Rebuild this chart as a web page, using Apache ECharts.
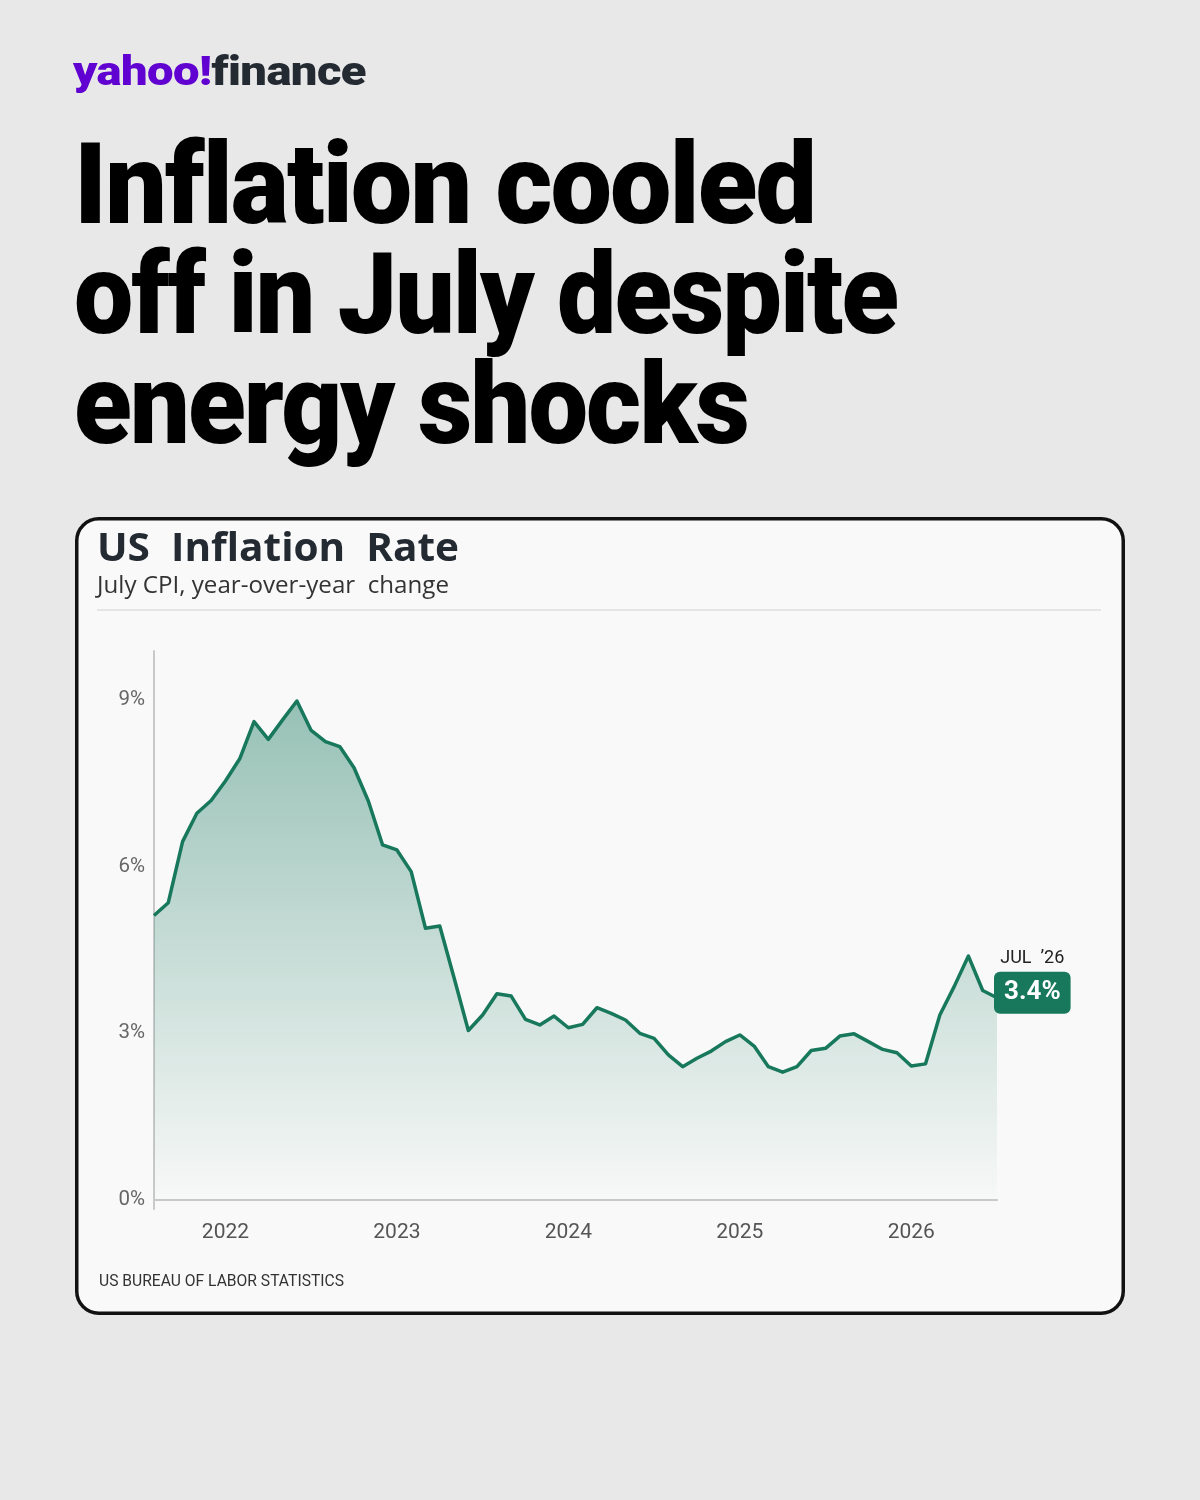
<!DOCTYPE html>
<html>
<head>
<meta charset="utf-8">
<script src="https://cdn.jsdelivr.net/npm/echarts@6/dist/echarts.min.js"></script>
<style>
  html, body { margin:0; padding:0; }
  body { width:1200px; height:1500px; background:#e8e8e8; position:relative; overflow:hidden; font-family:Roboto, "Noto Sans", sans-serif; }
  .fit { position:absolute; left:0; top:0; white-space:nowrap; transform-origin:0 0; }
  #logo { font-weight:900; font-size:41px; letter-spacing:-0.5px; }
  #logo .y { color:#6001d2; }
  #logo .f { color:#232a31; }
  .hl { font-weight:900; font-size:113px; line-height:113px; color:#000; letter-spacing:-2px; }
  #chart { position:absolute; left:0; top:0; width:1200px; height:1500px; }
</style>
</head>
<body>
<div id="chart"></div>
<div id="logo" class="fit"><span class="y">yahoo!</span><span class="f">finance</span></div>
<div id="h1" class="fit hl">Inflation cooled</div>
<div id="h2" class="fit hl">off in July despite</div>
<div id="h3" class="fit hl">energy shocks</div>
<script>
// ---- Data ----
const months = [
  '2021-08','2021-09','2021-10','2021-11','2021-12',
  '2022-01','2022-02','2022-03','2022-04','2022-05','2022-06','2022-07','2022-08','2022-09','2022-10','2022-11','2022-12',
  '2023-01','2023-02','2023-03','2023-04','2023-05','2023-06','2023-07','2023-08','2023-09','2023-10','2023-11','2023-12',
  '2024-01','2024-02','2024-03','2024-04','2024-05','2024-06','2024-07','2024-08','2024-09','2024-10','2024-11','2024-12',
  '2025-01','2025-02','2025-03','2025-04','2025-05','2025-06','2025-07','2025-08','2025-09','2025-10','2025-11','2025-12',
  '2026-01','2026-02','2026-03','2026-04','2026-05','2026-06','2026-07'
];
const inflationRate = [
  5.12, 5.35, 6.45, 6.96, 7.19,
  7.54, 7.94, 8.61, 8.29, 8.64, 8.98, 8.45, 8.25, 8.16, 7.78, 7.18, 6.39,
  6.30, 5.91, 4.89, 4.93, 4.00, 3.05, 3.33, 3.71, 3.67, 3.25, 3.15, 3.31,
  3.10, 3.16, 3.46, 3.36, 3.24, 3.00, 2.91, 2.61, 2.40, 2.55, 2.68, 2.85,
  2.97, 2.77, 2.40, 2.30, 2.40, 2.69, 2.73, 2.95, 2.99, 2.85, 2.71, 2.65,
  2.41, 2.45, 3.33, 3.84, 4.39, 3.77, 3.64
];
const yTickValues = [0, 3, 6, 9];
const latestPeriodLabel = 'JUL  \u201926';
const latestValueLabel = '3.4%';
const chartTitle = 'US  Inflation  Rate';
const chartSubtitle = 'July CPI, year-over-year  change';
const sourceText = 'US BUREAU OF LABOR STATISTICS';

// ---- Headline / logo text fitting ----
function place(id, left, top, width) {
  const el = document.getElementById(id);
  const w = el.getBoundingClientRect().width;
  el.style.left = left + 'px';
  el.style.top = top + 'px';
  el.style.transform = 'scaleX(' + (width / w) + ')';
}
const mctx = document.createElement('canvas').getContext('2d');
function fitScale(text, font, width) {
  mctx.font = font;
  return width / mctx.measureText(text).width;
}

// ---- Chart ----
const chart = echarts.init(document.getElementById('chart'), null, { renderer: 'canvas' });
const janIdx = months.map((m, i) => m.endsWith('-01') ? i : -1).filter(i => i >= 0);
const lineColor = '#17785c';

const titleFont = 'bold 39px "Open Sans"';
const subFont = '23px "Open Sans"';
const srcFont = '16.5px Roboto';

chart.setOption({
  backgroundColor: 'transparent',
  animation: false,
  graphic: [
    { type: 'rect', z: -10, shape: { x: 76.75, y: 518.75, width: 1046.5, height: 794.5, r: 22 },
      style: { fill: '#f9f9f9', stroke: '#111', lineWidth: 3.5 } },
    { type: 'line', z: -5, shape: { x1: 97, y1: 610, x2: 1101, y2: 610 },
      style: { stroke: '#dedede', lineWidth: 1.5 } },
    { type: 'text', x: 97, y: 530, scaleX: fitScale(chartTitle, titleFont, 362),
      style: { text: chartTitle, font: titleFont, fill: '#232a31', verticalAlign: 'top' } },
    { type: 'text', x: 97, y: 575, scaleX: fitScale(chartSubtitle, subFont, 352),
      style: { text: chartSubtitle, font: subFont, fill: '#333', verticalAlign: 'top' } },
    { type: 'text', x: 99, y: 1273, scaleX: fitScale(sourceText, srcFont, 245),
      style: { text: sourceText, font: srcFont, fill: '#333', verticalAlign: 'top' } }
  ],
  grid: { left: 154, top: 651, width: 843, height: 558, containLabel: false },
  xAxis: {
    type: 'value', min: 0, max: months.length - 1,
    axisLine: { show: true, lineStyle: { color: '#c9c9c9', width: 2 } },
    axisTick: { show: false },
    splitLine: { show: false },
    axisLabel: {
      customValues: janIdx,
      formatter: v => months[Math.round(v)].slice(0, 4),
      fontFamily: 'Roboto', fontSize: 21, color: '#555', margin: 13
    }
  },
  yAxis: {
    type: 'value', min: -0.162, max: 9.88,
    axisLine: { show: true, lineStyle: { color: '#c9c9c9', width: 2 } },
    axisTick: { show: false },
    splitLine: { show: false },
    axisLabel: {
      customValues: yTickValues,
      formatter: v => v + '%',
      fontFamily: 'Roboto', fontSize: 20.5, color: '#666', margin: 9
    }
  },
  series: [{
    type: 'line',
    data: inflationRate.map((v, i) => [i, v]),
    symbol: 'none',
    clip: false,
    lineStyle: { color: lineColor, width: 3.5, join: 'round' },
    itemStyle: { color: lineColor },
    areaStyle: {
      origin: 'start',
      color: new echarts.graphic.LinearGradient(0, 0, 0, 1, [
        { offset: 0, color: 'rgba(23,120,92,0.62)' },
        { offset: 1, color: 'rgba(23,120,92,0.0)' }
      ])
    },
    endLabel: {
      show: true,
      distance: 0,
      offset: [-3, -18],
      formatter: () => '{d|' + latestPeriodLabel + '}\n{v|' + latestValueLabel + '}',
      rich: {
        d: { fontFamily: 'Roboto', fontSize: 18, color: '#222', align: 'center', lineHeight: 26 },
        v: { fontFamily: 'Roboto', fontWeight: 700, fontSize: 26, color: '#fff',
             backgroundColor: lineColor, borderRadius: 6, padding: [8, 10, 8, 10], align: 'center' }
      }
    }
  }]
});

place('logo', 73, 47, 293);
place('h1', 74, 128, 741);
place('h2', 74, 238, 823);
place('h3', 74, 348, 674);
</script>
</body>
</html>
